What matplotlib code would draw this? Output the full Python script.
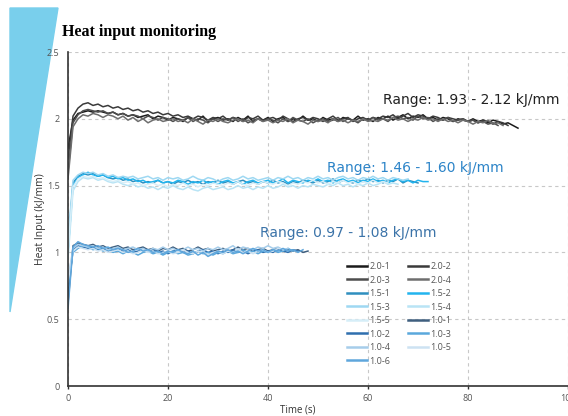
import numpy as np
import matplotlib
matplotlib.use("Agg")
import matplotlib.pyplot as plt
from matplotlib.patches import Polygon

# heat input (kJ/mm), one sample per second
s20_1 = [1.78,
    1.99, 2.04, 2.05, 2.06, 2.05, 2.06, 2.05, 2.04, 2.05, 2.03,
    2.04, 2.02, 2.03, 2.01, 2.02, 2.03, 2.00, 2.02, 2.01, 1.99,
    2.01, 2.00, 1.98, 2.01, 2.00, 1.99, 2.02, 1.98, 2.00, 2.01,
    1.99, 2.00, 1.98, 2.01, 1.99, 2.02, 1.98, 2.00, 1.99, 2.01,
    1.98, 2.00, 2.01, 1.98, 2.00, 1.99, 2.02, 1.99, 2.00, 1.98,
    2.01, 1.99, 2.00, 1.98, 2.01, 2.00, 1.99, 2.02, 1.99, 2.00,
    1.98, 2.01, 2.00, 2.02, 1.99, 2.01, 2.03, 2.00, 2.02, 2.01,
    2.03, 2.00, 2.01, 1.99, 2.01, 2.00, 1.98, 2.00, 1.99, 1.98,
    2.00, 1.98, 1.99, 1.97, 1.99, 1.98, 1.96, 1.97, 1.95, 1.93]
s20_2 = [1.70,
    2.02, 2.08, 2.11, 2.12, 2.10, 2.11, 2.09, 2.10, 2.08, 2.09,
    2.07, 2.08, 2.06, 2.07, 2.05, 2.06, 2.04, 2.05, 2.03, 2.04,
    2.02, 2.03, 2.01, 2.02, 2.00, 2.02, 2.01, 1.99, 2.01, 2.00,
    2.02, 1.99, 2.01, 2.00, 1.98, 2.01, 2.00, 2.02, 1.99, 2.00,
    2.01, 1.99, 2.02, 2.00, 1.98, 2.00, 2.01, 1.99, 2.01, 2.00,
    1.98, 2.00, 2.02, 1.99, 2.00, 2.01, 1.98, 2.00, 2.01, 1.99,
    2.01, 2.00, 2.02, 2.01, 2.03, 2.00, 2.02, 2.04, 2.01, 2.03,
    2.02, 2.00, 2.02, 2.01, 1.99, 2.01, 2.00, 1.99, 2.00, 1.98,
    1.99, 1.97, 1.99, 1.98, 1.96, 1.98, 1.97, 1.95]
s20_3 = [1.60,
    1.97, 2.03, 2.06, 2.07, 2.06, 2.05, 2.06, 2.04, 2.05, 2.03,
    2.04, 2.02, 2.03, 2.02, 2.00, 2.02, 2.01, 1.99, 2.01, 2.00,
    1.98, 2.00, 1.99, 2.01, 1.98, 2.00, 1.99, 1.97, 2.00, 1.98,
    2.00, 1.99, 2.01, 1.98, 2.00, 1.97, 1.99, 2.00, 1.98, 2.00,
    1.99, 1.97, 2.00, 1.98, 2.01, 1.99, 1.98, 2.00, 1.97, 1.99,
    2.00, 1.98, 1.99, 2.01, 1.98, 2.00, 1.99, 1.97, 2.00, 1.99,
    2.01, 1.99, 2.00, 1.98, 2.01, 2.02, 2.00, 2.01, 1.99, 2.02,
    2.00, 2.01, 1.98, 2.00, 1.99, 2.01, 1.98, 1.99, 2.00, 1.98,
    1.99, 1.97, 1.98, 1.96, 1.97, 1.95]
s20_4 = [1.55,
    1.94, 2.00, 2.03, 2.02, 2.04, 2.03, 2.01, 2.03, 2.02, 2.00,
    2.02, 1.99, 2.01, 1.98, 2.00, 1.97, 1.99, 2.00, 1.98, 1.99,
    2.00, 1.98, 1.99, 1.97, 2.00, 1.98, 1.96, 1.99, 1.98, 2.00,
    1.98, 1.97, 1.99, 2.00, 1.98, 1.99, 1.97, 2.00, 1.98, 1.99,
    1.97, 1.99, 1.98, 2.00, 1.97, 1.99, 1.98, 1.96, 1.99, 1.98,
    1.99, 1.97, 2.00, 1.98, 1.99, 1.97, 1.99, 1.98, 2.00, 1.98,
    1.99, 1.98, 2.00, 1.99, 2.01, 1.99, 2.00, 1.98, 2.00, 1.99,
    2.01, 1.99, 2.00, 1.98, 2.00, 1.98, 1.99, 1.97, 1.99, 1.98,
    1.96, 1.98, 1.97, 1.99, 1.96, 1.97, 1.95]

s15_1 = [1.05,
    1.52, 1.57, 1.59, 1.58, 1.59, 1.57, 1.58, 1.56, 1.55, 1.56,
    1.54, 1.55, 1.53, 1.54, 1.52, 1.53, 1.52, 1.54, 1.52, 1.53,
    1.51, 1.53, 1.52, 1.54, 1.52, 1.53, 1.51, 1.53, 1.52, 1.54,
    1.52, 1.53, 1.51, 1.53, 1.54, 1.52, 1.53, 1.51, 1.53, 1.52,
    1.54, 1.52, 1.53, 1.51, 1.53, 1.52, 1.54, 1.53, 1.52, 1.54,
    1.52, 1.53, 1.55, 1.52, 1.54, 1.53, 1.52, 1.54, 1.53, 1.55,
    1.53, 1.54, 1.52, 1.54, 1.53, 1.55, 1.52, 1.54, 1.53, 1.52]
s15_2 = [1.00,
    1.50, 1.56, 1.58, 1.60, 1.58, 1.57, 1.58, 1.56, 1.57, 1.55,
    1.56, 1.54, 1.55, 1.53, 1.54, 1.52, 1.53, 1.54, 1.52, 1.53,
    1.52, 1.54, 1.53, 1.51, 1.53, 1.52, 1.54, 1.52, 1.53, 1.51,
    1.53, 1.54, 1.52, 1.53, 1.51, 1.53, 1.54, 1.52, 1.53, 1.54,
    1.52, 1.53, 1.55, 1.52, 1.54, 1.53, 1.52, 1.54, 1.53, 1.55,
    1.53, 1.54, 1.52, 1.54, 1.55, 1.53, 1.54, 1.52, 1.54, 1.53,
    1.55, 1.53, 1.54, 1.52, 1.54, 1.55, 1.53, 1.54, 1.52, 1.54,
    1.53, 1.53]
s15_3 = [1.10,
    1.54, 1.58, 1.60, 1.59, 1.60, 1.58, 1.59, 1.57, 1.58, 1.56,
    1.57, 1.56, 1.57, 1.55, 1.56, 1.57, 1.55, 1.56, 1.54, 1.56,
    1.55, 1.56, 1.54, 1.55, 1.57, 1.55, 1.54, 1.56, 1.55, 1.53,
    1.55, 1.56, 1.54, 1.55, 1.57, 1.55, 1.56, 1.54, 1.55, 1.56,
    1.54, 1.56, 1.55, 1.57, 1.55, 1.56, 1.54, 1.56, 1.55, 1.57,
    1.55, 1.56, 1.54, 1.56, 1.57, 1.55, 1.56, 1.54, 1.56, 1.55,
    1.57, 1.55, 1.56, 1.54, 1.56, 1.55, 1.54, 1.55]
s15_4 = [0.95,
    1.46, 1.53, 1.56, 1.55, 1.56, 1.54, 1.55, 1.53, 1.52, 1.53,
    1.51, 1.50, 1.51, 1.49, 1.50, 1.48, 1.49, 1.47, 1.49, 1.48,
    1.50, 1.48, 1.47, 1.49, 1.47, 1.46, 1.48, 1.49, 1.47, 1.48,
    1.49, 1.47, 1.48, 1.50, 1.48, 1.49, 1.47, 1.49, 1.48, 1.50,
    1.48, 1.49, 1.51, 1.49, 1.50, 1.48, 1.50, 1.49, 1.51, 1.50,
    1.49, 1.51, 1.50, 1.52, 1.50, 1.51, 1.49, 1.51, 1.50, 1.52,
    1.50, 1.51, 1.53, 1.51, 1.52, 1.51]
s15_5 = [1.02,
    1.49, 1.55, 1.57, 1.56, 1.57, 1.55, 1.56, 1.54, 1.53, 1.54,
    1.52, 1.53, 1.51, 1.52, 1.50, 1.51, 1.52, 1.50, 1.51, 1.49,
    1.51, 1.50, 1.52, 1.50, 1.51, 1.49, 1.51, 1.50, 1.52, 1.51,
    1.50, 1.52, 1.51, 1.53, 1.51, 1.50, 1.52, 1.51, 1.53, 1.52,
    1.51, 1.53, 1.52, 1.50, 1.52, 1.51, 1.53, 1.52, 1.54, 1.52,
    1.53, 1.51, 1.53, 1.52, 1.54, 1.52, 1.53, 1.51, 1.53, 1.52,
    1.54, 1.52, 1.53, 1.52]

s10_1 = [0.62,
    1.05, 1.07, 1.06, 1.05, 1.06, 1.04, 1.05, 1.03, 1.04, 1.05,
    1.03, 1.04, 1.02, 1.03, 1.04, 1.02, 1.03, 1.01, 1.03, 1.02,
    1.04, 1.02, 1.03, 1.01, 1.02, 1.04, 1.02, 1.03, 1.01, 1.02,
    1.03, 1.01, 1.02, 1.04, 1.02, 1.03, 1.01, 1.02, 1.03, 1.01,
    1.02, 1.03, 1.01, 1.02, 1.01, 1.02, 1.00, 1.01]
s10_2 = [0.70,
    1.02, 1.05, 1.04, 1.03, 1.04, 1.02, 1.03, 1.01, 1.02, 1.03,
    1.01, 1.02, 1.00, 1.01, 1.03, 1.01, 1.02, 1.00, 1.01, 0.99,
    1.01, 1.02, 1.00, 1.01, 0.99, 1.01, 1.02, 1.00, 1.01, 0.99,
    1.01, 1.00, 1.02, 1.00, 1.01, 0.99, 1.01, 1.02, 1.00, 1.01,
    1.00, 1.02, 1.01, 1.00, 1.02, 1.01]
s10_3 = [0.75,
    1.00, 1.03, 1.05, 1.04, 1.02, 1.03, 1.01, 1.02, 1.00, 1.01,
    0.99, 1.01, 1.00, 0.98, 1.00, 1.01, 0.99, 1.00, 0.98, 1.00,
    1.01, 0.99, 1.00, 0.98, 0.99, 1.01, 0.99, 1.00, 0.98, 1.00,
    0.99, 1.01, 0.99, 1.00, 1.02, 1.00, 1.01, 0.99, 1.01, 1.00,
    1.02, 1.00, 1.01, 1.03, 1.01]
s10_4 = [0.80,
    1.03, 1.06, 1.05, 1.04, 1.05, 1.03, 1.04, 1.02, 1.03, 1.04,
    1.02, 1.03, 1.04, 1.02, 1.03, 1.01, 1.03, 1.02, 1.04, 1.02,
    1.03, 1.01, 1.02, 1.04, 1.02, 1.03, 1.01, 1.03, 1.02, 1.04,
    1.02, 1.03, 1.05, 1.02, 1.04, 1.03, 1.02, 1.04, 1.03, 1.05,
    1.03, 1.04, 1.02, 1.03]
s10_5 = [0.78,
    1.01, 1.04, 1.03, 1.02, 1.03, 1.01, 1.02, 1.00, 1.01, 1.02,
    1.00, 1.01, 0.99, 1.00, 1.02, 1.00, 1.01, 0.99, 1.00, 1.01,
    0.99, 1.00, 1.02, 1.00, 0.99, 1.01, 1.00, 0.98, 1.00, 1.01,
    0.99, 1.01, 1.00, 1.02, 1.00, 1.01, 0.99, 1.01, 1.02, 1.00,
    1.01, 1.03, 1.02]
s10_6 = [0.58,
    1.04, 1.08, 1.06, 1.05, 1.04, 1.05, 1.03, 1.04, 1.02, 1.03,
    1.02, 1.00, 1.01, 1.03, 1.01, 1.02, 1.00, 1.01, 0.99, 1.01,
    1.00, 1.02, 1.00, 0.99, 1.01, 0.98, 1.00, 0.97, 0.99, 1.01,
    1.00, 1.02, 1.00, 1.01, 0.99, 1.01, 1.03, 1.01, 1.02, 1.00,
    1.02, 1.01, 1.03, 1.01, 1.02, 1.00, 1.02]

names = ["2.0-1", "2.0-2", "2.0-3", "2.0-4",
         "1.5-1", "1.5-2", "1.5-3", "1.5-4", "1.5-5",
         "1.0-1", "1.0-2", "1.0-3", "1.0-4", "1.0-5", "1.0-6"]
series = [s20_1, s20_2, s20_3, s20_4,
          s15_1, s15_2, s15_3, s15_4, s15_5,
          s10_1, s10_2, s10_3, s10_4, s10_5, s10_6]
colors = ["#1a1a1a", "#3a3a3a", "#4d4d4d", "#6e6e6e",
          "#2f8fbf", "#22b4ee", "#9ed8f2", "#b9e4f5", "#d6eef8",
          "#3f5f7f", "#2f6fae", "#5aa8dc", "#a6cdea", "#cde2f2", "#5fa6dc"]

ranges = ["Range: 1.93 - 2.12 kJ/mm", "Range: 1.46 - 1.60 kJ/mm", "Range: 0.97 - 1.08 kJ/mm"]
range_colors = ["#222222", "#2c84c8", "#3b73a8"]

W, H = 568, 416
fig = plt.figure(figsize=(W / 100, H / 100), dpi=100)

# decorative blue wedge on the left
fig.patches.append(Polygon([(10 / W, 1 - 8 / H), (58 / W, 1 - 8 / H), (10 / W, 1 - 312 / H)],
                           closed=True, transform=fig.transFigure, color="#79cfec", zorder=-5))
fig.text(62 / W, 1 - 32 / H, "Heat input monitoring", family="Liberation Serif",
         weight="bold", fontsize=11.5, va="center", ha="left")

ax = fig.add_axes([68 / W, 1 - 386 / H, 1 - 68 / W, (386 - 52) / H])
ax.set_facecolor("none")

lines = []
for name, vals, c in zip(names, series, colors):
    t = np.arange(len(vals))
    ln, = ax.plot(t, vals, color=c, lw=1.1, label=name)
    lines.append(ln)

ax.set_xlim(0, 100)
ax.set_ylim(0, 2.5)
ax.set_xticks([0, 20, 40, 60, 80, 100])
ax.set_xticklabels(["0", "20", "40", "60", "80", "100"])
ax.set_yticks([0, 0.5, 1, 1.5, 2, 2.5])
ax.set_yticklabels(["0", "0.5", "1", "1.5", "2", "2.5"])
ax.grid(True, ls=(0, (3, 3)), color="#c8c8c8", lw=0.8)
ax.set_axisbelow(True)
for sp in ["top", "right"]:
    ax.spines[sp].set_visible(False)
for sp in ["left", "bottom"]:
    ax.spines[sp].set_color("#333333")
    ax.spines[sp].set_linewidth(1.2)
ax.tick_params(axis="x", length=2, width=1, color="#333333", labelsize=6.5,
               labelcolor="#555555", pad=4)
ax.tick_params(axis="y", length=0, labelsize=6.5, labelcolor="#555555", pad=6)
for lab in ax.get_xticklabels() + ax.get_yticklabels():
    lab.set_family("Open Sans")

ax.set_xlabel("Time (s)", family="Open Sans", fontsize=7, color="#333333", labelpad=0)
ax.xaxis.set_label_coords(0.46, -0.055)
ax.set_ylabel("Heat Input (kJ/mm)", family="Open Sans", fontsize=7.5, color="#333333")
ax.yaxis.set_label_coords(-0.045, 0.5)

ax.text(383 / W, 1 - 100 / H, ranges[0], transform=fig.transFigure, fontsize=10,
        color=range_colors[0], va="center")
ax.text(327 / W, 1 - 168 / H, ranges[1], transform=fig.transFigure, fontsize=10,
        color=range_colors[1], va="center")
ax.text(260 / W, 1 - 233 / H, ranges[2], transform=fig.transFigure, fontsize=10,
        color=range_colors[2], va="center")

order = list(range(0, 15, 2)) + list(range(1, 15, 2))
leg = ax.legend([lines[i] for i in order], [names[i] for i in order], ncol=2,
                loc="upper left", bbox_to_anchor=(347 / W, 1 - 262 / H),
                bbox_transform=fig.transFigure, frameon=False, borderpad=0,
                borderaxespad=0, handlelength=2.2, handletextpad=0.25,
                columnspacing=2.0, labelspacing=0.5,
                prop={"family": "Open Sans", "size": 6.5})
for txt in leg.get_texts():
    txt.set_color("#555555")
for h in leg.legend_handles:
    h.set_linewidth(1.8)

fig.savefig("out.png", dpi=100)
